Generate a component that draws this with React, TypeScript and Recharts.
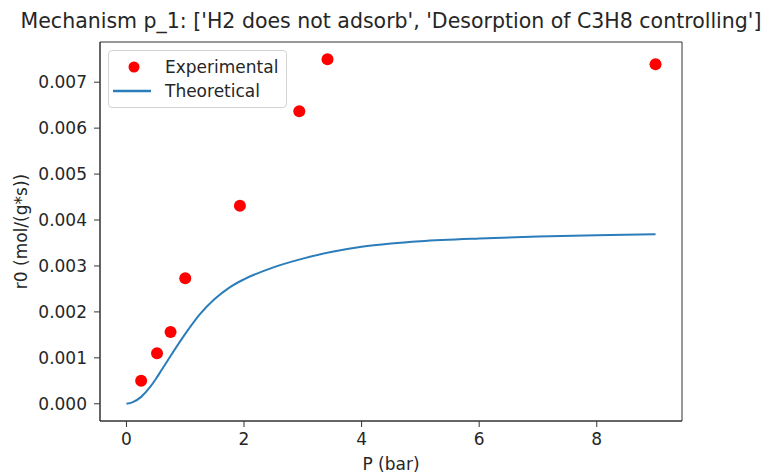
import React from 'react';
import {
  ComposedChart,
  Scatter,
  XAxis,
  YAxis,
  ReferenceArea,
  Legend,
} from 'recharts';

// measured rates
const expPressure = [0.25, 0.52, 0.75, 1.0, 1.93, 2.94, 3.42, 9.0];
const expRate = [0.0005, 0.0011, 0.00156, 0.00273, 0.00431, 0.00637, 0.0075, 0.00739];

// model curve
const theoPressure = [0, 0.1, 0.25, 0.4, 0.5, 0.6, 0.75, 1.0, 1.25, 1.5, 1.75, 2.0, 2.5, 3.0, 3.5, 4.0, 4.5, 5.0, 6.0, 7.0, 8.0, 9.0];
const theoRate = [0, 0.00003, 0.00015, 0.00036, 0.00054, 0.00074, 0.00104, 0.00152, 0.00195, 0.00228, 0.00253, 0.00271, 0.00297, 0.00316, 0.00331, 0.00342, 0.00349, 0.00354, 0.0036, 0.00364, 0.00367, 0.00369];

const xTicks = [0, 2, 4, 6, 8];
const yTicks = [0, 0.001, 0.002, 0.003, 0.004, 0.005, 0.006, 0.007];

const X_DOMAIN: [number, number] = [-0.45, 9.45];
const Y_DOMAIN: [number, number] = [-0.000375, 0.007875];

const FONT = "'DejaVu Sans', sans-serif";
const TEXT = '#262626';
const BLUE = '#2a7dba';
const RED = '#ff0000';

const experimental = expPressure.map((p, i) => ({ p, r: expRate[i] }));
const theoretical = theoPressure.map((p, i) => ({ p, r: theoRate[i] }));

const tickStyle = { fill: TEXT, fontSize: 17, fontFamily: FONT };

const YLabel = (props: any) => {
  const vb = props.viewBox || { y: 42, height: 379 };
  const cx = 21;
  const cy = vb.y + vb.height / 2;
  return (
    <text
      x={cx}
      y={cy}
      transform={`rotate(-90 ${cx} ${cy})`}
      textAnchor="middle"
      dominantBaseline="central"
      fill={TEXT}
      fontSize={17}
      fontFamily={FONT}
    >
      r0 (mol/(g*s))
    </text>
  );
};

const LegendBox = () => (
  <div
    style={{
      position: 'relative',
      width: 179,
      height: 58,
      boxSizing: 'border-box',
      border: '1px solid #d3d3d3',
      borderRadius: 4,
      background: 'rgba(255,255,255,0.8)',
      fontFamily: FONT,
      fontSize: 17,
      color: TEXT,
    }}
  >
    <svg width={50} height={58} style={{ position: 'absolute', left: 0, top: 0 }}>
      <circle cx={25} cy={16} r={5.5} fill={RED} />
      <line x1={4} x2={42} y1={40} y2={40} stroke={BLUE} strokeWidth={2.5} />
    </svg>
    <div style={{ position: 'absolute', left: 56, top: 5, lineHeight: '22px' }}>Experimental</div>
    <div style={{ position: 'absolute', left: 56, top: 29, lineHeight: '22px' }}>Theoretical</div>
  </div>
);

export default function App() {
  return (
    <div
      style={{
        position: 'fixed',
        left: 0,
        top: 0,
        width: 771,
        height: 473,
        background: '#fff',
        overflow: 'hidden',
      }}
    >
      <div
        style={{
          position: 'absolute',
          left: -9,
          width: 800,
          top: 7,
          textAlign: 'center',
          whiteSpace: 'nowrap',
          fontFamily: FONT,
          fontSize: 20.5,
          color: TEXT,
          lineHeight: '28px',
        }}
      >
        Mechanism p_1: ['H2 does not adsorb', 'Desorption of C3H8 controlling']
      </div>
      <ComposedChart
        width={771}
        height={473}
        margin={{ top: 42, right: 89, bottom: 0, left: 0 }}
      >
        <XAxis
          dataKey="p"
          type="number"
          domain={X_DOMAIN}
          ticks={xTicks}
          allowDataOverflow
          height={52}
          tick={tickStyle}
          tickSize={6}
          tickMargin={6}
          axisLine={{ stroke: '#333' }}
          tickLine={{ stroke: '#333' }}
          label={{
            value: 'P (bar)',
            position: 'insideBottom',
            offset: 3,
            fill: TEXT,
            fontSize: 17,
            fontFamily: FONT,
          }}
        />
        <YAxis
          dataKey="r"
          type="number"
          domain={Y_DOMAIN}
          ticks={yTicks}
          allowDataOverflow
          width={100}
          tick={tickStyle}
          tickSize={6}
          tickMargin={7}
          tickFormatter={(v: number) => v.toFixed(3)}
          axisLine={{ stroke: '#333' }}
          tickLine={{ stroke: '#333' }}
          label={<YLabel />}
        />
        <ReferenceArea
          x1={X_DOMAIN[0]}
          x2={X_DOMAIN[1]}
          y1={Y_DOMAIN[0]}
          y2={Y_DOMAIN[1]}
          fill="none"
          stroke="#333"
          strokeWidth={1}
          ifOverflow="visible"
        />
        <Scatter
          name="Theoretical"
          data={theoretical}
          dataKey="r"
          line={{ stroke: BLUE, strokeWidth: 2 }}
          lineJointType="monotoneX"
          shape={() => <g />}
          isAnimationActive={false}
        />
        <Scatter
          name="Experimental"
          data={experimental}
          dataKey="r"
          shape={(p: any) => <circle cx={p.cx} cy={p.cy} r={6} fill={RED} />}
          isAnimationActive={false}
        />
        <Legend
          layout="horizontal"
          verticalAlign="middle"
          align="center"
          content={() => <LegendBox />}
          wrapperStyle={{ left: 108, top: 50, width: 179, height: 58 }}
        />
      </ComposedChart>
    </div>
  );
}
